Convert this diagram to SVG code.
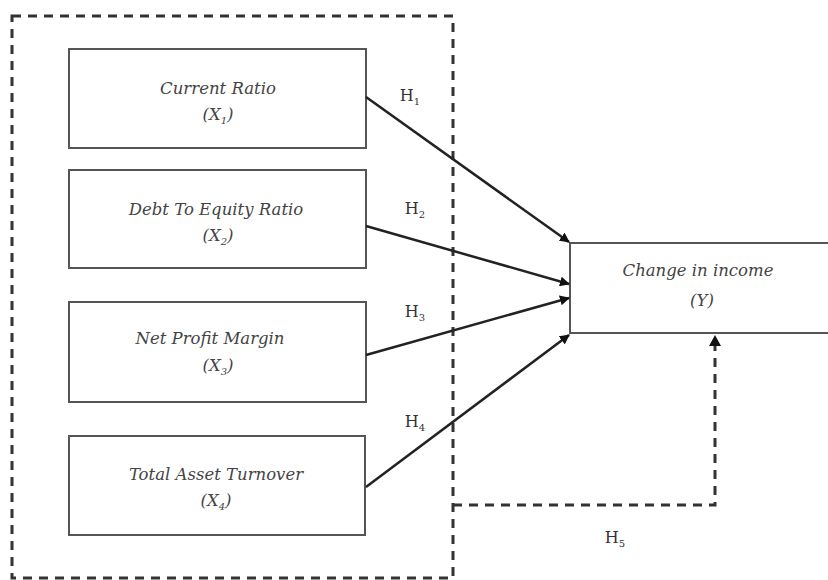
<svg xmlns="http://www.w3.org/2000/svg" width="828" height="580" viewBox="0 0 828 580">
<style>
.box{fill:#fff;stroke:#555;stroke-width:2}
.t{font-family:"DejaVu Serif","Liberation Serif",serif;font-style:italic;font-size:16.5px;fill:#444;text-anchor:middle}
.h{font-family:"DejaVu Serif","Liberation Serif",serif;font-size:16px;fill:#333;text-anchor:middle}
.s{font-size:10px}
.a{stroke:#222;stroke-width:2.5;fill:none;marker-end:url(#ah)}
.d{stroke:#333;stroke-width:3;fill:none;stroke-dasharray:9,7}
</style>
<defs>
<marker id="ah" viewBox="0 0 10 10" refX="9" refY="5" markerWidth="4" markerHeight="4" orient="auto" markerUnits="strokeWidth">
<path d="M0,0 L10,5 L0,10 z" fill="#111"/>
</marker>
</defs>
<rect width="828" height="580" fill="#fff"/>
<g id="outer">
<rect x="12" y="16" width="441" height="562" class="d"/>
</g>
<g id="x1">
<rect class="box" x="69" y="49" width="297" height="99"/>
<text class="t" x="218" y="94">Current Ratio</text>
<text class="t" x="218" y="120">(X<tspan class="s" dy="4">1</tspan><tspan dy="-4">)</tspan></text>
</g>
<g id="x2">
<rect class="box" x="69" y="170" width="297" height="98"/>
<text class="t" x="216" y="215">Debt To Equity Ratio</text>
<text class="t" x="218" y="241">(X<tspan class="s" dy="4">2</tspan><tspan dy="-4">)</tspan></text>
</g>
<g id="x3">
<rect class="box" x="69" y="302" width="297" height="100"/>
<text class="t" x="210" y="344">Net Profit Margin</text>
<text class="t" x="218" y="371">(X<tspan class="s" dy="4">3</tspan><tspan dy="-4">)</tspan></text>
</g>
<g id="x4">
<rect class="box" x="69" y="436" width="296" height="99"/>
<text class="t" x="216" y="480">Total Asset Turnover</text>
<text class="t" x="216" y="506">(X<tspan class="s" dy="4">4</tspan><tspan dy="-4">)</tspan></text>
</g>
<g id="y">
<rect class="box" x="570" y="243" width="262" height="90"/>
<text class="t" x="698" y="276">Change in income</text>
<text class="t" x="702" y="306">(Y)</text>
</g>
<g id="connectors">
<line class="a" x1="366" y1="97" x2="569" y2="242"/>
<line class="a" x1="366" y1="226" x2="569" y2="284"/>
<line class="a" x1="366" y1="355" x2="569" y2="298"/>
<line class="a" x1="366" y1="487" x2="569" y2="335"/>
<path class="d" d="M453,505 H715 V345"/>
<path d="M709,346 L715,335 L721,346 z" fill="#111"/>
</g>
<g id="labels">
<text class="h" x="410" y="101">H<tspan class="s" dy="4">1</tspan></text>
<text class="h" x="415" y="214">H<tspan class="s" dy="4">2</tspan></text>
<text class="h" x="415" y="317">H<tspan class="s" dy="4">3</tspan></text>
<text class="h" x="415" y="427">H<tspan class="s" dy="4">4</tspan></text>
<text class="h" x="615" y="543">H<tspan class="s" dy="4">5</tspan></text>
</g>
</svg>
